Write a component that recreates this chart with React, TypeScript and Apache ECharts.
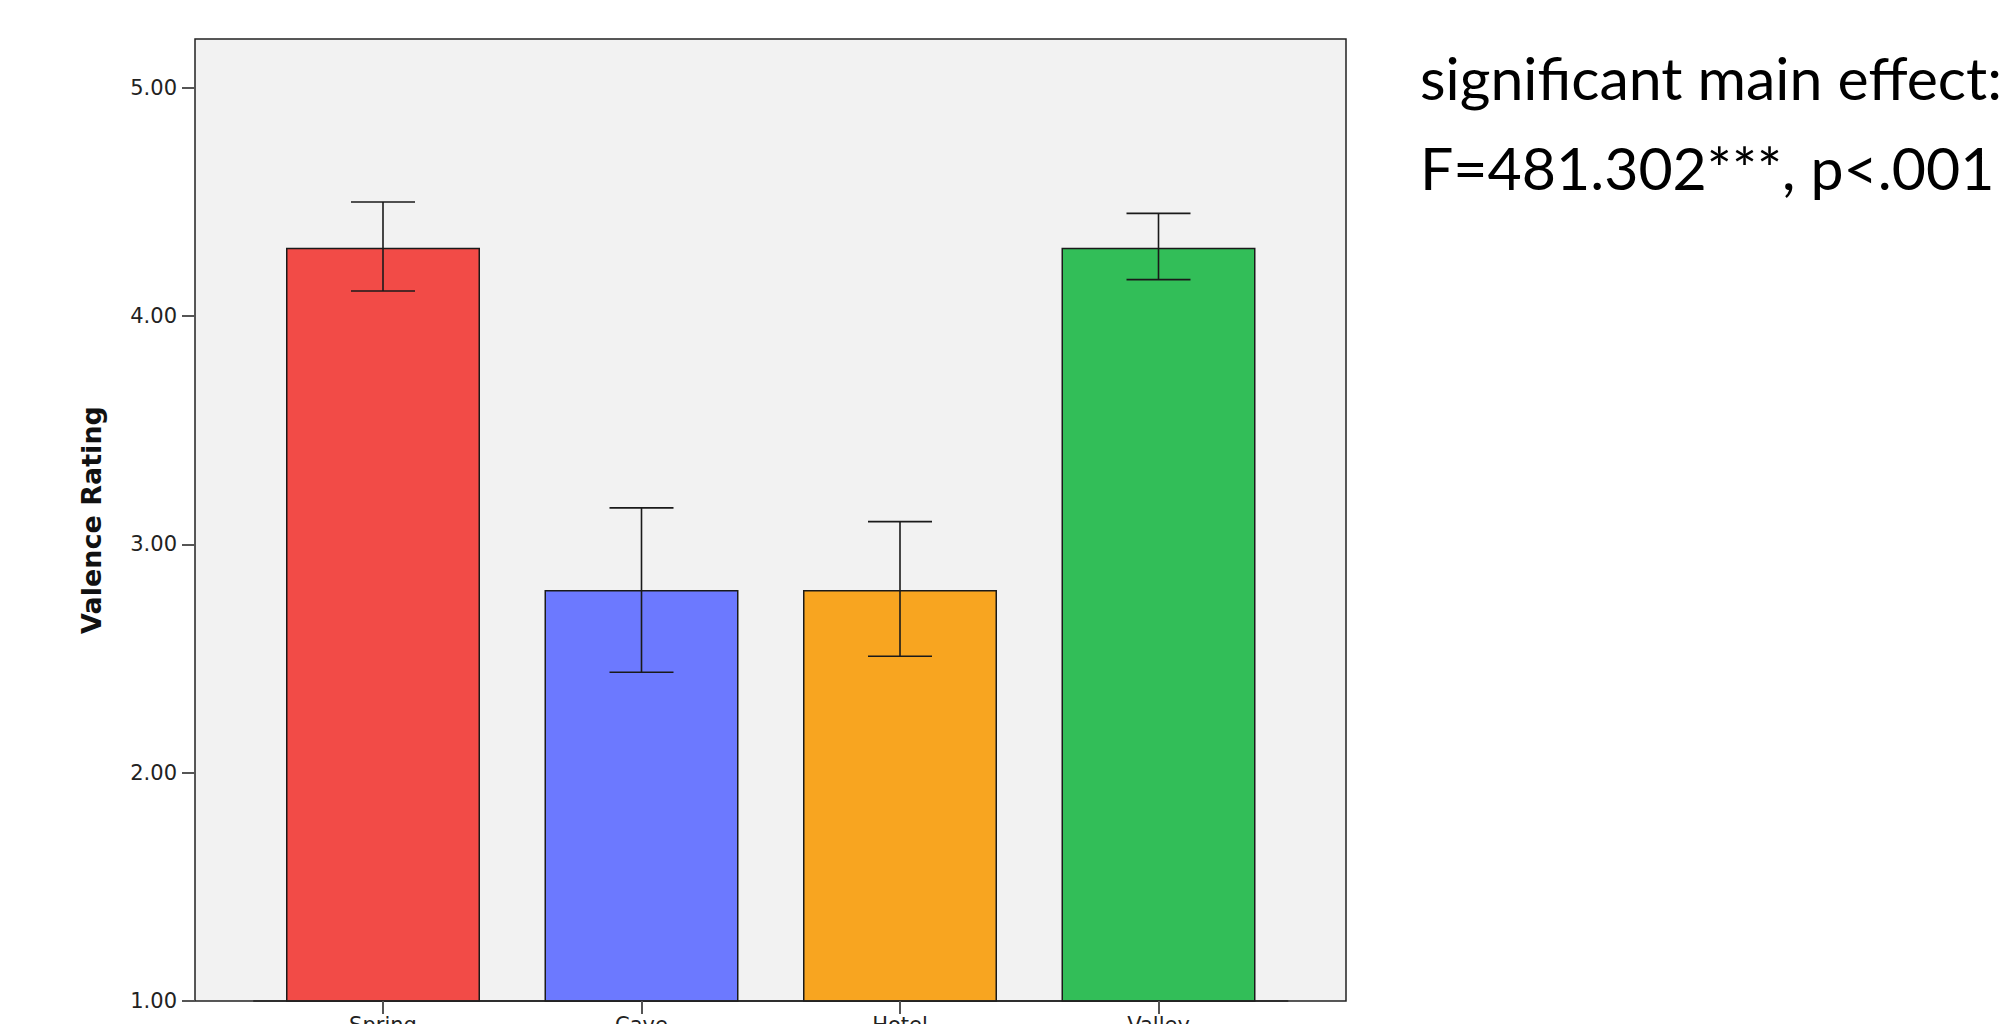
import React, { useEffect, useRef } from "react";
import * as echarts from "echarts";

const categories = ["Spring", "Cave", "Hotel", "Valley"];
const means = [4.3, 2.8, 2.8, 4.3];
const errLow = [4.11, 2.44, 2.51, 4.16];
const errHigh = [4.5, 3.16, 3.1, 4.45];
const barColors = ["#f24b47", "#6c79ff", "#f8a520", "#32be58"];
const yTicks = [1, 2, 3, 4, 5];
const noteLines = ["significant main effect:", "F=481.302***, p<.001"];

export default function App() {
  const ref = useRef<HTMLDivElement>(null);
  useEffect(() => {
    if (!ref.current) return;
    const chart = echarts.init(ref.current, null, { renderer: "svg" });
    const yMin = 1;
    const yMax = 5.214;
    chart.setOption({
      animation: false,
      backgroundColor: "#ffffff",
      grid: [
        {
          left: 253.75,
          right: 713.25,
          top: 39,
          bottom: 23,
          containLabel: false,
          outerBoundsMode: "none",
        },
        {
          left: 195,
          right: 655,
          top: 39,
          bottom: 23,
          containLabel: false,
          outerBoundsMode: "none",
          show: true,
          backgroundColor: "#f2f2f2",
          borderColor: "#222222",
          borderWidth: 1.5,
        },
      ],
      xAxis: [
        {
          type: "category",
          gridIndex: 0,
          data: categories,
          boundaryGap: true,
          z: 5,
          axisLine: { show: true, lineStyle: { color: "#222222", width: 1.5 } },
          axisTick: {
            show: true,
            alignWithLabel: true,
            length: 13,
            lineStyle: { color: "#555555", width: 2 },
          },
          axisLabel: {
            margin: 13,
            fontFamily: "DejaVu Sans",
            fontSize: 21,
            color: "#222222",
          },
        },
        { type: "value", gridIndex: 1, show: false, min: 0, max: 1 },
      ],
      yAxis: [
        { type: "value", gridIndex: 0, min: yMin, max: yMax, show: false },
        {
          type: "value",
          gridIndex: 1,
          min: yMin,
          max: yMax,
          name: "Valence Rating",
          nameLocation: "middle",
          nameGap: 90,
          nameRotate: 90,
          nameTextStyle: {
            fontFamily: "DejaVu Sans",
            fontWeight: "bold",
            fontSize: 27,
            color: "#111111",
          },
          splitLine: { show: false },
          axisLine: { show: false },
          axisTick: {
            show: true,
            length: 13,
            customValues: yTicks,
            lineStyle: { color: "#555555", width: 2 },
          },
          axisLabel: {
            margin: 18,
            customValues: yTicks,
            fontFamily: "DejaVu Sans",
            fontSize: 21,
            color: "#222222",
            formatter: (v: number) => v.toFixed(2),
          },
        },
      ],
      series: [
        {
          type: "bar",
          xAxisIndex: 0,
          yAxisIndex: 0,
          barWidth: 194,
          clip: true,
          z: 2,
          data: means.map((v, i) => ({
            value: v,
            itemStyle: {
              color: barColors[i],
              borderColor: "#1a1a1a",
              borderWidth: 1.5,
            },
          })),
        },
        {
          type: "custom",
          xAxisIndex: 0,
          yAxisIndex: 0,
          z: 10,
          data: categories.map((_, i) => [i, errLow[i], errHigh[i]]),
          renderItem: (params: any, api: any) => {
            const idx = api.value(0);
            const lo = api.coord([idx, api.value(1)]);
            const hi = api.coord([idx, api.value(2)]);
            const half = 32;
            const style = { stroke: "#1a1a1a", lineWidth: 1.6 };
            return {
              type: "group",
              children: [
                { type: "line", shape: { x1: lo[0], y1: lo[1], x2: hi[0], y2: hi[1] }, style },
                { type: "line", shape: { x1: hi[0] - half, y1: hi[1], x2: hi[0] + half, y2: hi[1] }, style },
                { type: "line", shape: { x1: lo[0] - half, y1: lo[1], x2: lo[0] + half, y2: lo[1] }, style },
              ],
            };
          },
        },
      ],
      graphic: noteLines.map((t, i) => ({
        type: "text",
        left: 1420,
        top: 48 + i * 90,
        style: {
          text: t,
          fontFamily: "Lato",
          fontSize: 59,
          fill: "#000000",
        },
      })),
    });
    return () => chart.dispose();
  }, []);
  return (
    <div
      ref={ref}
      style={{ position: "fixed", left: 0, top: 0, width: 2001, height: 1024 }}
    />
  );
}
